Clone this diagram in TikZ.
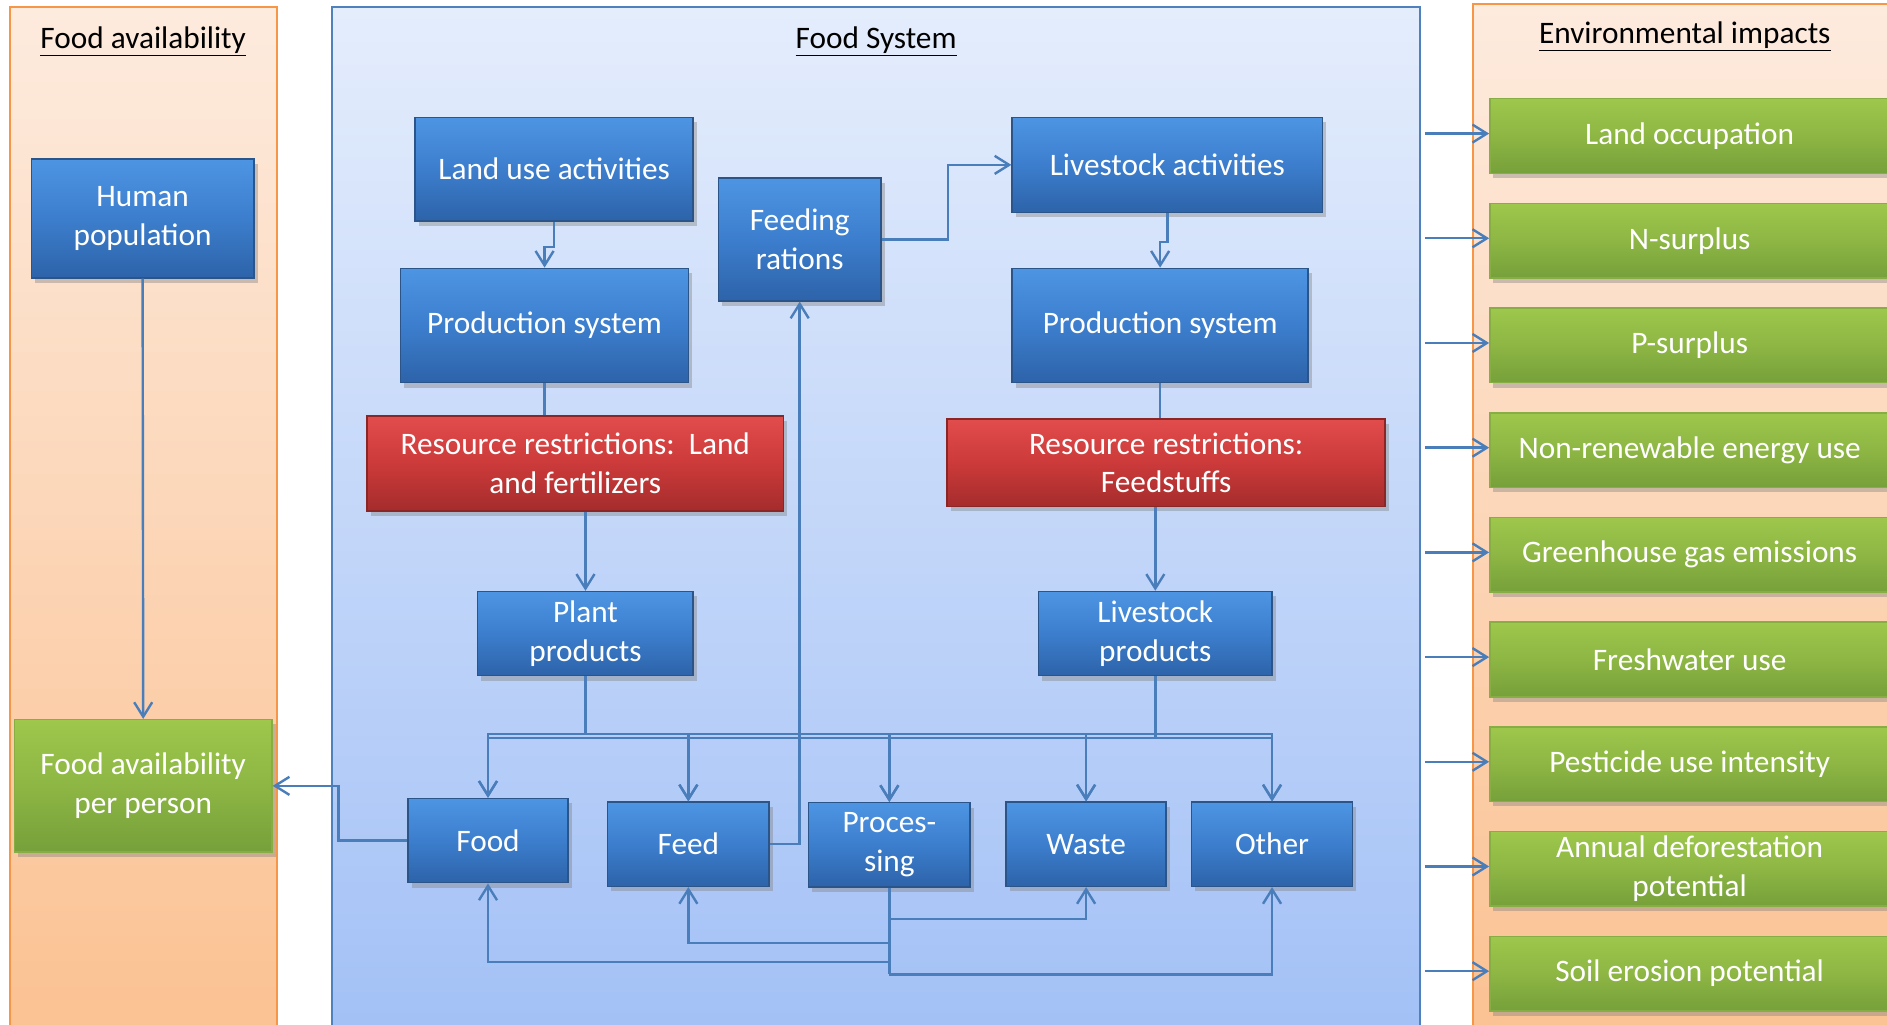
\documentclass[tikz,border=0pt]{standalone}
\usepackage{fontspec}
\setmainfont{Carlito}
\usetikzlibrary{arrows.meta,shadows}
\definecolor{lineblue}{HTML}{4A7EBB}
\definecolor{bbtop}{HTML}{4D95E3}
\definecolor{bbmid}{HTML}{3C7ECD}
\definecolor{bbbot}{HTML}{2D63A9}
\definecolor{bbedge}{HTML}{2B5588}
\definecolor{rbtop}{HTML}{E24C4C}
\definecolor{rbmid}{HTML}{CC3A3A}
\definecolor{rbbot}{HTML}{A52C2C}
\definecolor{rbedge}{HTML}{8A2626}
\definecolor{gbtop}{HTML}{9EC74C}
\definecolor{gbmid}{HTML}{8DB644}
\definecolor{gbbot}{HTML}{76A03A}
\definecolor{gbedge}{HTML}{86AE45}
\definecolor{optop}{HTML}{FDEBDE}
\definecolor{opbot}{HTML}{FBC191}
\definecolor{opedge}{HTML}{F79646}
\definecolor{bptop}{HTML}{E4EDFC}
\definecolor{bpbot}{HTML}{A2C0F6}
\definecolor{bpedge}{HTML}{4F81BD}
\begin{document}
\begin{tikzpicture}[x=1pt,y=-1pt,
  box/.style={rectangle, line width=1.2pt, inner sep=2pt, align=center, text=white,
    font=\fontsize{26}{32}\selectfont,
    drop shadow={opacity=0.4,shadow xshift=3pt,shadow yshift=-4pt}},
  bluebox/.style={box, draw=bbedge, top color=bbtop, bottom color=bbbot, middle color=bbmid},
  redbox/.style={box, draw=rbedge, top color=rbtop, bottom color=rbbot, middle color=rbmid},
  greenbox/.style={box, draw=gbedge, top color=gbtop, bottom color=gbbot, middle color=gbmid},
  title/.style={font=\fontsize{26}{32}\selectfont, text=black, inner sep=0pt},
  conn/.style={draw=lineblue, line width=2pt},
  arr/.style={conn, -{Straight Barb[length=12pt,width=15pt,line width=2pt]}},
]
\useasboundingbox (0,0) rectangle (1568,851);
\clip (0,0) rectangle (1568,851);
\fill[white] (0,0) rectangle (1568,851);

% panels
\path[draw=opedge, line width=1.5pt, top color=optop, bottom color=opbot] (8,6) rectangle (230,870);
\path[draw=bpedge, line width=1.5pt, top color=bptop, bottom color=bpbot] (276,6) rectangle (1180,870);
\path[draw=opedge, line width=1.5pt, top color=optop, bottom color=opbot] (1224,3) rectangle (1600,870);

% titles
\node[title] (t1) at (119,34) {\underline{Food availability}};
\node[title] (t2) at (728,34) {\underline{Food System}};
\node[title] (t3) at (1400,30) {\underline{Environmental impacts}};

% left column
\node[bluebox, minimum width=185, minimum height=99] (hp) at (118.5,181.5) {Human\\population};
\node[greenbox, minimum width=214, minimum height=110] (fapp) at (119,653) {Food availability\\per person};

% food system boxes
\node[bluebox, minimum width=231, minimum height=86] (lua) at (460.5,140.5) {Land use activities};
\node[bluebox, minimum width=239, minimum height=95] (ps1) at (452.5,270.5) {Production system};
\node[bluebox, minimum width=135, minimum height=102] (fr) at (664.5,199) {Feeding\\rations};
\node[bluebox, minimum width=258, minimum height=79] (la) at (970,137) {Livestock activities};
\node[bluebox, minimum width=246, minimum height=95] (ps2) at (964,270.5) {Production system};
\node[redbox, minimum width=346, minimum height=79] (rr1) at (478,385) {Resource restrictions:~~Land\\and fertilizers};
\node[redbox, minimum width=364, minimum height=73] (rr2) at (969,384.5) {Resource restrictions:\\Feedstuffs};
\node[bluebox, minimum width=179, minimum height=70] (pp) at (486.5,526.5) {Plant\\products};
\node[bluebox, minimum width=194, minimum height=70] (lp) at (960,526.5) {Livestock\\products};
\node[bluebox, minimum width=133, minimum height=70] (food) at (405.5,698.5) {Food};
\node[bluebox, minimum width=134, minimum height=70] (feed) at (572,701.5) {Feed};
\node[bluebox, minimum width=134, minimum height=70] (proc) at (739,702) {Proces-\\sing};
\node[bluebox, minimum width=133, minimum height=70] (waste) at (902.5,701.5) {Waste};
\node[bluebox, minimum width=134, minimum height=70] (other) at (1057,701.5) {Other};

% environmental impacts
\foreach \t [count=\i] in {Land occupation, N-surplus, P-surplus, Non-renewable energy use,
  Greenhouse gas emissions, Freshwater use, Pesticide use intensity,
  {Annual deforestation\\potential}, Soil erosion potential}{
  \node[greenbox, minimum width=332, minimum height=62] (env\i) at (1404,{26+87*\i}) {\t};
  \coordinate (es\i) at (1184,{24+87*\i});
  \draw[arr] (es\i) -- (es\i -| env\i.west);
}

% connectors
\draw[arr] (hp.south) -- (fapp.north);
\draw[arr] (lua.south) -- ++(0,21) -| (ps1.north);
\draw[arr] (fr.east) -- ++(55,0) |- (la.west);
\draw[arr] (la.south) -- ++(0,24) -| (ps2.north);
\draw[conn] (ps1.south) -- (ps1.south |- rr1.north);
\draw[conn] (ps2.south) -- (ps2.south |- rr2.north);
\draw[arr] (rr1.south -| pp.north) -- (pp.north);
\draw[arr] (rr2.south -| lp.north) -- (lp.north);

\coordinate (pb) at (486.5,610);
\coordinate (lb) at (960,613);
\draw[conn] (pp.south) -- (pb);
\draw[conn] (lp.south) -- (lb);
\foreach \n in {food,feed,proc,waste,other}{
  \draw[arr] (pb) -| (\n.north);
  \draw[arr] (lb) -| (\n.north);
}

\draw[arr] (feed.east) -| (fr.south);
\draw[arr] (food.west) -- ++(-57,0) |- (fapp.east);

\draw[conn] (proc.south) -- ++(0,72);
\draw[arr] (proc.south) ++(0,26) -| (waste.south);
\draw[arr] (proc.south) ++(0,46) -| (feed.south);
\draw[arr] (proc.south) ++(0,62) -| (food.south);
\draw[arr] (proc.south) ++(0,72) -| (other.south);
\end{tikzpicture}
\end{document}
